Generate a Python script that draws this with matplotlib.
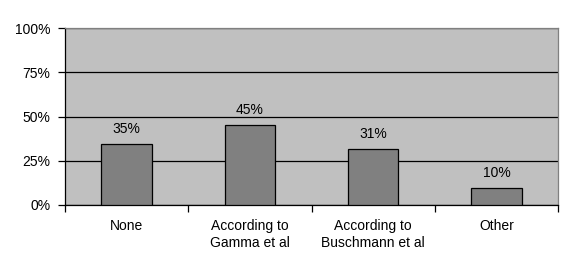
import numpy as np
import matplotlib.pyplot as plt
from matplotlib.ticker import FixedLocator

categories = ["None", "According to\nGamma et al", "According to\nBuschmann et al", "Other"]
shares = [34.4, 45.3, 31.5, 9.5]
share_labels = ["35%", "45%", "31%", "10%"]
yticks = [0, 25, 50, 75, 100]

plt.rcParams['font.family'] = ['Liberation Sans', 'DejaVu Sans']

fig = plt.figure(figsize=(5.73, 2.71), dpi=100)
ax = fig.add_axes([65/573, 1 - 205/271, (558-65)/573, (205-28)/271])
ax.set_facecolor('#C0C0C0')

x = np.arange(len(categories))
ax.bar(x, shares, width=0.41, color='#808080', edgecolor='black', linewidth=0.9, zorder=3)
for xi, v, lab in zip(x, shares, share_labels):
    ax.text(xi, v + 4.5, lab, ha='center', va='bottom', fontsize=10, zorder=4)

ax.set_xlim(-0.5, len(categories) - 0.5)
ax.set_ylim(0, 100)
ax.set_yticks(yticks)
ax.set_yticklabels([f"{t}%" for t in yticks], fontsize=10)
ax.yaxis.grid(True, color='black', linewidth=0.9, zorder=1)
ax.set_axisbelow(True)

ax.set_xticks(x)
ax.set_xticklabels(categories, fontsize=10, linespacing=1.3)
ax.xaxis.set_minor_locator(FixedLocator(np.arange(-0.5, len(categories), 1.0)))
ax.tick_params(axis='x', which='major', length=0, pad=10)
ax.tick_params(axis='x', which='minor', length=5, width=0.9, direction='out')
ax.tick_params(axis='y', length=5, width=0.9, direction='out', pad=5.5)

ax.spines['left'].set_color('black')
ax.spines['bottom'].set_color('black')
ax.spines['top'].set_color('#808080')
ax.spines['right'].set_color('#808080')
for s in ax.spines.values():
    s.set_linewidth(0.9)

plt.savefig("out.png", dpi=100)
